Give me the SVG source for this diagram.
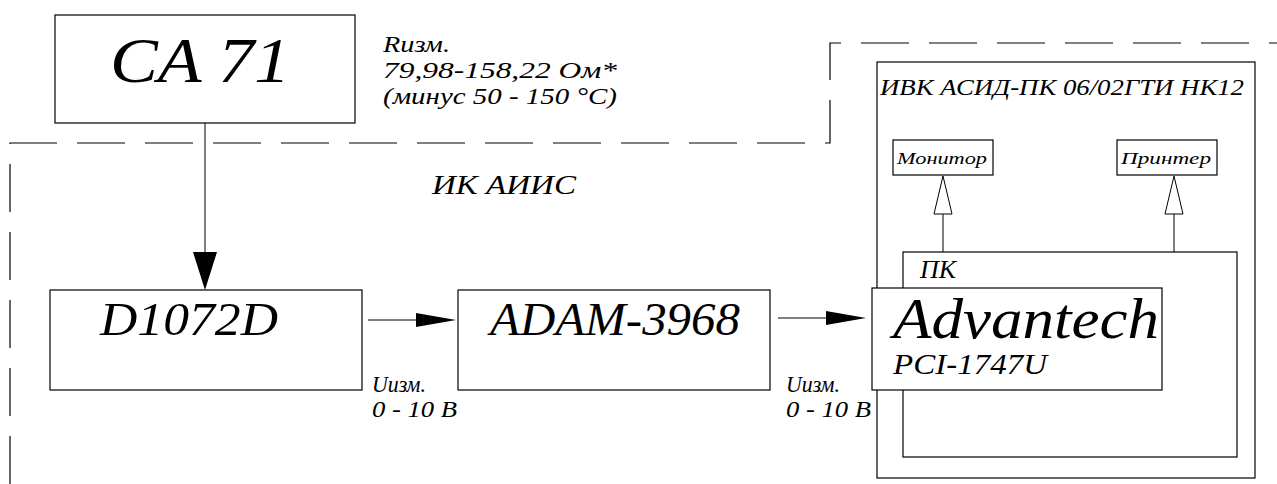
<svg xmlns="http://www.w3.org/2000/svg" width="1277" height="484" viewBox="0 0 1277 484">
<style>
text{font-family:"Liberation Serif","Times New Roman",Times,"DejaVu Serif",serif;font-style:italic;fill:#000}
.box{fill:none;stroke:#000;stroke-width:1.2}
.ln{fill:none;stroke:#000;stroke-width:1}
.dash{fill:none;stroke:#000;stroke-width:1.2;stroke-dasharray:48 20}
.ah{fill:#000}
.oh{fill:#fff;stroke:#000;stroke-width:1}
</style>
<rect width="1277" height="484" fill="#fff"/>
<g id="boundary">
<path class="dash" d="M10,484 V143 H830 V43 H1277"/>
<text x="432" y="194" font-size="27" textLength="144" lengthAdjust="spacingAndGlyphs">ИК АИИС</text>
</g>
<g id="ca71">
<rect class="box" x="55" y="15" width="300" height="108"/>
<text x="110" y="82" font-size="64" textLength="180" lengthAdjust="spacingAndGlyphs">CA 71</text>
</g>
<g id="rlabel">
<text x="383" y="52" font-size="23" textLength="67" lengthAdjust="spacingAndGlyphs">Rизм.</text>
<text x="383" y="78" font-size="24" textLength="234" lengthAdjust="spacingAndGlyphs">79,98-158,22 Ом*</text>
<text x="383" y="104" font-size="24" textLength="234" lengthAdjust="spacingAndGlyphs">(минус 50 - 150 °C)</text>
</g>
<g id="d1072d">
<rect class="box" x="50" y="290" width="312" height="100"/>
<text x="100" y="335" font-size="46" textLength="178" lengthAdjust="spacingAndGlyphs">D1072D</text>
</g>
<g id="adam">
<rect class="box" x="458" y="290" width="312" height="100"/>
<text x="490" y="335" font-size="46" textLength="250" lengthAdjust="spacingAndGlyphs">ADAM-3968</text>
</g>
<g id="ivk">
<rect class="box" x="877" y="62" width="378" height="416"/>
<text x="880" y="95" font-size="23" textLength="364" lengthAdjust="spacingAndGlyphs">ИВК АСИД-ПК 06/02ГТИ НК12</text>
</g>
<g id="monitor">
<rect class="box" x="893" y="140" width="100" height="35"/>
<text x="897" y="164" font-size="17" textLength="90" lengthAdjust="spacingAndGlyphs">Монитор</text>
</g>
<g id="printer">
<rect class="box" x="1117" y="140" width="100" height="35"/>
<text x="1121" y="164" font-size="17" textLength="90" lengthAdjust="spacingAndGlyphs">Принтер</text>
</g>
<g id="pk">
<rect class="box" x="903" y="252" width="334" height="205"/>
<text x="920" y="278" font-size="26" textLength="36" lengthAdjust="spacingAndGlyphs">ПК</text>
</g>
<g id="advantech">
<rect x="872" y="288" width="290" height="102" style="fill:#fff;stroke:#000;stroke-width:1.2"/>
<text x="893" y="338" font-size="58" textLength="266" lengthAdjust="spacingAndGlyphs">Advantech</text>
<text x="893" y="374" font-size="29" textLength="154" lengthAdjust="spacingAndGlyphs">PCI-1747U</text>
</g>
<g id="connectors">
<line class="ln" x1="205" y1="123" x2="205" y2="252"/>
<polygon class="ah" points="193,252 217,252 205,290"/>
<line class="ln" x1="368" y1="320" x2="416" y2="320"/>
<polygon class="ah" points="416,313 416,327 456,320"/>
<text x="372" y="392" font-size="23" textLength="54" lengthAdjust="spacingAndGlyphs">Uизм.</text>
<text x="372" y="417" font-size="23" textLength="85" lengthAdjust="spacingAndGlyphs">0 - 10 B</text>
<line class="ln" x1="778" y1="318" x2="826" y2="318"/>
<polygon class="ah" points="826,311 826,325 866,318"/>
<text x="786" y="392" font-size="23" textLength="54" lengthAdjust="spacingAndGlyphs">Uизм.</text>
<text x="786" y="417" font-size="23" textLength="85" lengthAdjust="spacingAndGlyphs">0 - 10 B</text>
<line class="ln" x1="943" y1="252" x2="943" y2="214"/>
<polygon class="oh" points="943,176 934,214 952,214"/>
<line class="ln" x1="1174" y1="252" x2="1174" y2="214"/>
<polygon class="oh" points="1174,176 1165,214 1183,214"/>
</g>
</svg>
